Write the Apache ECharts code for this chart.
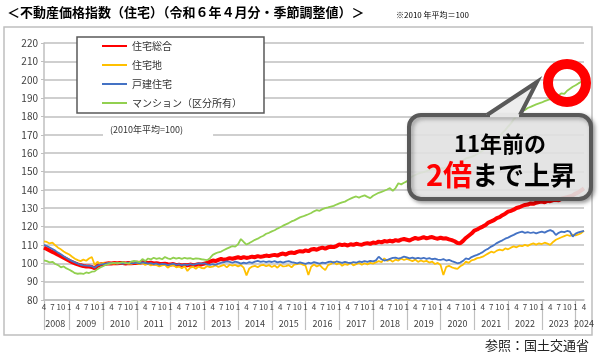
<!DOCTYPE html>
<html>
<head>
<meta charset="utf-8">
<script src="https://cdn.jsdelivr.net/npm/echarts@6/dist/echarts.min.js"></script>
<style>
  html, body { margin: 0; padding: 0; background: #fff; }
  #chart { width: 600px; height: 353px; }
</style>
</head>
<body>
<div id="chart"></div>
<script>
// 月次カテゴリ 2008年4月〜2024年4月
const months = [];
for (let y = 2008; y <= 2024; y++) {
  for (let m = 1; m <= 12; m++) {
    if (y === 2008 && m < 4) continue;
    if (y === 2024 && m > 4) break;
    months.push(y + '/' + m);
  }
}
const monthLabels = [1, 4, 7, 10];
// 年ラベルを置く月（その他の年は7月）
const yearLabelMonth = { 2008: 8, 2024: 4 };

const yTicks = { min: 80, max: 220, interval: 10 };

// 住宅総合
const sogo = [
  108.5, 107.8, 107.0, 106.2, 105.5, 104.6, 103.8, 103.0, 102.2,
  101.4, 100.6, 100.0, 99.4, 98.9, 98.5, 98.3, 98.2, 98.0, 97.3, 98.6, 99.3,
  99.6, 99.8, 100.0, 99.9, 100.1, 100.0, 100.2, 100.1, 99.9, 100.2, 100.0, 100.1,
  100.3, 100.2, 100.6, 100.4, 100.1, 100.3, 99.9, 100.0, 99.7, 99.6, 99.8, 99.5,
  99.3, 99.6, 99.0, 99.2, 98.8, 99.1, 98.9, 99.3, 99.0, 99.2, 99.5, 99.4,
  99.8, 100.2, 100.9, 101.5, 101.2, 101.8, 102.4, 101.9, 102.3, 102.8, 102.5, 102.9,
  103.3, 102.8, 103.4, 102.9, 103.2, 103.6, 103.3, 103.9, 103.5, 103.8, 104.2, 103.9,
  104.3, 104.6, 104.2, 104.9, 105.3, 104.8, 105.6, 105.9, 105.5, 106.2, 106.6, 106.4,
  107.0, 106.6, 107.5, 107.8, 107.4, 108.1, 108.5, 108.0, 108.7, 109.0, 108.8, 109.4,
  110.3, 109.9, 110.2, 109.7, 110.4, 110.0, 110.6, 110.3, 110.1, 110.7, 111.0, 110.6,
  111.3, 111.0, 111.8, 111.4, 112.1, 111.8, 112.3, 111.9, 112.6, 112.2, 112.9, 113.2,
  112.8, 112.4, 113.2, 113.8, 113.3, 113.7, 114.2, 113.6, 114.0, 114.3, 113.7, 113.4,
  113.9, 113.5, 113.6, 113.0, 112.6, 112.0, 111.1, 110.9, 112.2, 113.8, 115.0, 116.2,
  117.8, 118.4, 119.3, 120.0, 120.9, 122.2, 122.8, 123.5, 124.6, 125.1, 126.2, 127.0,
  128.1, 128.6, 129.2, 130.1, 130.5, 131.2, 131.8, 132.0, 132.6, 132.4, 133.0, 133.3,
  133.6, 133.2, 134.1, 133.8, 134.4, 134.6, 134.3, 135.2, 135.6, 136.0, 136.5, 137.0,
  138.0, 138.6, 139.7, 140.8
];
// 住宅地
const land = [
  112.0, 111.6, 110.8, 111.3, 109.8, 108.5, 107.6, 106.4, 105.5,
  104.8, 103.6, 102.5, 101.7, 101.2, 102.0, 101.4, 102.6, 103.4, 99.2, 100.8, 99.6,
  100.2, 99.7, 100.3, 100.0, 99.8, 100.4, 100.1, 99.9, 100.2, 100.0, 99.7, 100.3,
  100.0, 99.6, 100.2, 99.1, 99.8, 98.8, 99.4, 99.0, 98.3, 98.9, 99.2, 97.6,
  98.6, 99.0, 97.8, 98.2, 97.3, 98.4, 95.8, 97.6, 98.1, 97.0, 98.3, 97.4,
  97.3, 98.5, 97.9, 98.2, 99.0, 98.0, 98.6, 99.1, 97.8, 99.2, 98.7, 99.1,
  98.3, 99.0, 97.6, 93.4, 97.2, 98.2, 98.6, 97.9, 98.8, 99.1, 98.4, 99.0,
  98.0, 98.8, 97.6, 99.2, 98.3, 98.5, 99.0, 97.8, 99.3, 99.6, 100.0, 99.2,
  98.7, 93.6, 98.1, 99.3, 98.2, 99.1, 97.5, 96.3, 99.0, 99.6, 100.9, 99.4,
  100.2, 98.6, 99.6, 99.1, 100.4, 98.9, 99.5, 100.3, 99.2, 100.0, 99.4, 100.2,
  99.8, 100.5, 101.2, 100.6, 102.7, 101.3, 101.9, 100.9, 102.0, 101.5, 102.6, 101.8,
  102.4, 101.8, 101.2, 102.0, 100.8, 101.5, 100.9, 101.3, 100.4, 100.9, 99.6, 100.2,
  99.1, 93.6, 98.0, 98.6, 97.8, 97.3, 97.0, 98.4, 99.2, 100.9, 100.2, 101.6,
  102.0, 102.8, 103.1, 103.6, 104.5, 105.4, 106.3, 105.8, 106.9, 107.4, 107.0, 108.1,
  107.6, 108.5, 109.2, 108.7, 109.6, 109.3, 110.0, 109.5, 110.3, 110.8, 110.2, 110.9,
  110.5, 111.2, 110.7, 110.0, 111.6, 112.8, 113.5, 114.2, 114.8, 115.4, 114.9, 115.6,
  115.2, 115.7, 116.4, 117.7
];
// 戸建住宅
const house = [
  110.0, 109.4, 108.6, 107.8, 106.9, 105.8, 104.9, 103.8, 102.9,
  102.0, 101.2, 100.5, 99.8, 99.2, 98.9, 98.7, 98.6, 98.4, 97.6, 98.8, 99.3,
  99.6, 99.8, 100.1, 99.9, 100.2, 100.0, 100.1, 99.8, 100.0, 100.3, 99.9, 100.1,
  100.4, 100.0, 100.5, 100.2, 99.8, 100.1, 99.6, 99.9, 99.3, 99.7, 99.5, 99.0,
  99.4, 99.8, 99.1, 99.5, 98.9, 99.4, 99.0, 99.6, 99.2, 99.5, 100.0, 99.8,
  100.0, 99.4, 99.1, 99.6, 99.2, 99.8, 100.3, 100.6, 101.0, 100.8, 100.3, 100.9,
  100.5, 99.8, 100.4, 100.0, 100.6, 100.2, 100.9, 101.3, 100.8, 101.1, 100.6, 101.0,
  100.7, 101.2, 100.5, 100.9, 100.4, 100.9, 101.2, 100.6, 100.3, 100.0, 100.5, 100.1,
  99.7, 100.3, 100.0, 100.6, 100.2, 99.8, 100.4, 100.1, 100.7, 100.9, 100.3, 101.0,
  100.6, 100.2, 100.8, 100.4, 100.1, 100.7, 100.3, 101.0, 100.6, 101.2, 100.8, 101.3,
  101.0, 101.6, 103.6, 102.2, 101.5, 101.8, 102.4, 102.9, 103.1, 102.6, 103.0, 103.6,
  103.2, 102.7, 103.1, 102.5, 102.9, 102.6, 103.0, 102.4, 102.8, 102.2, 102.5, 102.0,
  101.8, 102.3, 101.5, 101.9, 101.2, 100.6, 100.0, 100.4, 101.3, 102.7, 102.2, 103.4,
  104.0, 104.6, 105.3, 106.1, 107.2, 108.0, 109.1, 109.9, 111.0, 111.8, 112.5, 113.4,
  114.0, 114.8, 115.5, 116.3, 116.8, 117.2, 116.6, 117.0, 116.5, 116.9, 116.3, 116.8,
  117.2, 116.7, 117.5, 118.1, 117.4, 115.4, 116.6, 117.3, 117.0, 117.6, 117.2, 114.5,
  116.2, 116.8, 117.3, 117.7
];
// マンション（区分所有）
const mansion = [
  101.6, 101.2, 100.5, 100.8, 99.6, 99.0, 97.8, 98.3, 97.2,
  96.5, 95.6, 94.6, 94.3, 94.5, 94.2, 95.0, 94.7, 95.4, 95.6, 96.8, 97.7,
  98.4, 99.2, 99.6, 99.9, 100.3, 99.8, 100.2, 100.6, 100.1, 99.8, 100.9, 101.3,
  101.0, 100.6, 102.3, 101.2, 102.6, 102.1, 103.0, 102.4, 102.8, 102.2, 103.4, 102.7,
  102.3, 103.1, 102.5, 102.9, 102.4, 103.0, 102.6, 102.8, 102.3, 102.7, 102.5, 102.2,
  102.0, 101.7, 102.8, 104.6, 105.4, 106.0, 106.4, 107.2, 108.0, 108.7, 109.4, 109.1,
  110.4, 113.2, 111.6, 110.2, 111.0, 111.9, 112.8, 113.4, 114.3, 115.0, 116.1, 116.6,
  117.4, 118.0, 118.9, 119.6, 120.5, 121.2, 121.9, 122.8, 123.4, 124.2, 125.0, 125.5,
  126.1, 126.7, 127.4, 128.3, 129.0, 128.6, 129.5, 130.0, 130.4, 130.9, 131.3, 132.0,
  132.6, 133.2, 133.6, 134.5, 135.2, 135.9, 136.4, 135.8, 136.5, 137.0, 136.2, 135.5,
  136.8, 137.6, 138.4, 138.9, 139.5, 140.2, 141.0, 139.4, 141.0, 143.6, 143.0, 143.9,
  144.6, 146.2, 147.4, 148.1, 148.8, 149.4, 149.7, 150.2, 150.8, 151.3, 150.9, 151.6,
  152.0, 151.6, 152.3, 151.9, 152.6, 153.0, 153.8, 154.9, 156.0, 157.1, 157.6, 158.0,
  158.6, 159.5, 160.3, 161.4, 162.6, 163.7, 164.4, 165.8, 167.5, 169.2, 171.0, 172.6,
  174.5, 176.2, 178.4, 180.0, 181.7, 182.8, 183.5, 184.6, 185.2, 185.9, 186.6, 187.1,
  187.6, 188.3, 188.9, 189.4, 189.8, 190.5, 191.6, 192.6, 192.3, 194.0, 195.1, 196.2,
  197.0, 198.0, 198.8, 199.4
];

const seriesNames = ['住宅総合', '住宅地', '戸建住宅', 'マンション（区分所有）'];
const seriesData = [sogo, land, house, mansion];
const colorArr = ['#ff0000', '#ffc000', '#4472c4', '#92d050'];
const widthArr = [4, 1.8, 1.8, 1.8];

const font = '"Noto Sans CJK JP", "Noto Sans", sans-serif';
const gridColor = '#bfbfbf';
const bubbleFill = 'rgba(234,234,234,0.88)';
const bubbleLine = '#595959';

const chart = echarts.init(document.getElementById('chart'));

const monthOf = v => +v.split('/')[1];
const yearOf = v => +v.split('/')[0];

const seriesArr = seriesData.map((data, i) => ({
  name: seriesNames[i],
  type: 'line',
  data: data,
  symbol: 'none',
  color: colorArr[i],
  lineStyle: { color: colorArr[i], width: widthArr[i] },
  z: 2 + i
}));

const option = {
  animation: false,
  textStyle: { fontFamily: font },
  title: [
    {
      text: '＜不動産価格指数（住宅）（令和６年４月分・季節調整値）＞',
      left: 2, top: 1,
      textStyle: { fontSize: 13, fontWeight: 'bold', color: '#000', fontFamily: font }
    },
    {
      text: '※2010 年平均＝100',
      left: 391, top: 6,
      textStyle: { fontSize: 8, fontWeight: 'normal', color: '#000', fontFamily: font }
    },
    {
      text: '参照：国土交通省',
      right: 6, top: 334,
      textStyle: { fontSize: 13, fontWeight: 'normal', color: '#222', fontFamily: font }
    }
  ],
  grid: { left: 44, right: 16, top: 43, bottom: 53, outerBoundsMode: 'none' },
  legend: {
    orient: 'vertical',
    left: 77, top: 37,
    data: seriesNames,
    itemWidth: 25, itemHeight: 12, itemGap: 9,
    padding: [4, 22, 5, 24],
    backgroundColor: '#fff',
    borderColor: '#595959', borderWidth: 1.5,
    // 凡例は線だけ（丸記号は消す）
    itemStyle: { opacity: 0, borderWidth: 0 },
    textStyle: { fontSize: 10, color: '#333', fontFamily: font }
  },
  xAxis: [
    {
      type: 'category',
      data: months,
      boundaryGap: false,
      axisLine: { lineStyle: { color: gridColor, width: 1.5 } },
      axisTick: { show: false },
      axisLabel: {
        interval: (idx, v) => monthLabels.includes(monthOf(v)),
        formatter: v => String(monthOf(v)),
        fontSize: 8, color: '#404040', margin: 3
      }
    },
    {
      type: 'category',
      data: months,
      boundaryGap: false,
      position: 'bottom',
      axisLine: { show: false },
      axisTick: {
        show: true, length: 30,
        interval: (idx, v) => idx === 0 || monthOf(v) === 1,
        lineStyle: { color: gridColor, width: 1.2 }
      },
      axisLabel: {
        interval: (idx, v) => monthOf(v) === (yearLabelMonth[yearOf(v)] || 7),
        formatter: v => String(yearOf(v)),
        fontSize: 9, color: '#404040', margin: 19
      }
    }
  ],
  yAxis: {
    type: 'value',
    min: yTicks.min, max: yTicks.max, interval: yTicks.interval,
    axisLine: { show: true, lineStyle: { color: gridColor, width: 1.5 } },
    axisTick: { show: true, length: 3, lineStyle: { color: gridColor } },
    axisLabel: { fontSize: 10, color: '#404040', margin: 6 },
    splitLine: { lineStyle: { color: gridColor, width: 1.5 } }
  },
  series: seriesArr,
  graphic: [
    // 外枠
    {
      type: 'rect', z: 0, silent: true,
      shape: { x: 4, y: 27, width: 588, height: 308 },
      style: { fill: 'none', stroke: gridColor, lineWidth: 1.5 }
    },
    // (2010年平均=100)
    {
      type: 'text', x: 103, y: 119, z: 10,
      style: {
        text: '(2010年平均=100)', fontSize: 9, fill: '#333', fontFamily: font,
        backgroundColor: '#fff', padding: [6, 30, 6, 7]
      }
    },
    // 吹き出し 本体
    {
      type: 'rect', z: 100,
      shape: { x: 409, y: 115, width: 182, height: 84, r: 12 },
      style: {
        fill: bubbleFill, stroke: bubbleLine, lineWidth: 4,
        shadowBlur: 4, shadowOffsetX: 2, shadowOffsetY: 2, shadowColor: 'rgba(0,0,0,0.35)'
      }
    },
    // 吹き出し しっぽ
    {
      type: 'polygon', z: 101,
      shape: { points: [[486, 115], [537, 82], [521, 115]] },
      style: { fill: bubbleFill }
    },
    {
      type: 'line', z: 102,
      shape: { x1: 490, y1: 115, x2: 519, y2: 115 },
      style: { stroke: '#e6e6e6', lineWidth: 4.5 }
    },
    {
      type: 'polyline', z: 103,
      shape: { points: [[487, 115], [537, 82], [520, 115]] },
      style: { stroke: bubbleLine, lineWidth: 4, fill: null, lineJoin: 'miter' }
    },
    {
      type: 'text', z: 104,
      x: 500, y: 144,
      style: {
        text: '11年前の', fontSize: 22, fontWeight: 'bold', fill: '#000', fontFamily: font,
        align: 'center', verticalAlign: 'middle'
      }
    },
    {
      type: 'text', z: 104,
      x: 501, y: 175,
      style: {
        text: '{r|2倍}{b|まで上昇}',
        align: 'center', verticalAlign: 'middle',
        rich: {
          r: { fontSize: 29, fontWeight: 'bold', fill: '#ff0000', fontFamily: font },
          b: { fontSize: 26, fontWeight: 'bold', fill: '#000', fontFamily: font }
        }
      }
    },
    // 赤丸
    {
      type: 'circle', z: 105,
      shape: { cx: 567, cy: 83, r: 19 },
      style: { fill: null, stroke: '#ff0000', lineWidth: 10 }
    }
  ]
};

chart.setOption(option);
</script>
</body>
</html>
